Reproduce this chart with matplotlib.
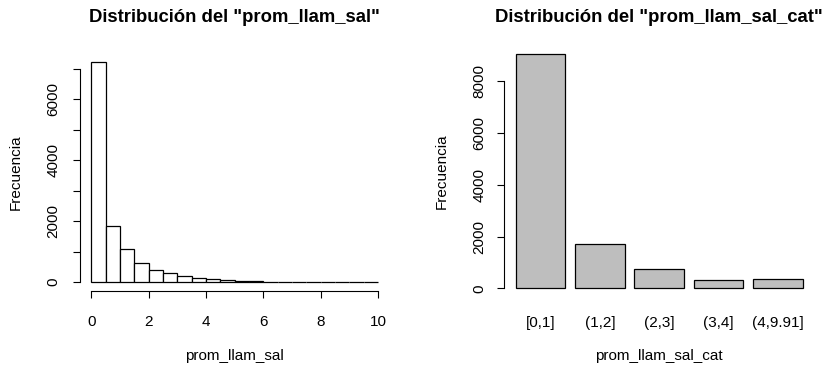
import numpy as np
import matplotlib.pyplot as plt

plt.rcParams['font.family'] = ['Liberation Sans', 'DejaVu Sans']

# histogram of prom_llam_sal (bins of 0.5 from 0 to 10)
bin_edges = [0, 0.5, 1, 1.5, 2, 2.5, 3, 3.5, 4, 4.5, 5, 5.5, 6, 6.5, 7, 7.5, 8, 8.5, 9, 9.5, 10]
hist_counts = [7217, 1855, 1075, 638, 408, 286, 188, 122, 89, 66, 40, 32, 8, 5, 3, 2, 1, 1, 1, 0]

# barplot of prom_llam_sal_cat
cat_labels = ["[0,1]", "(1,2]", "(2,3]", "(3,4]", "(4,9.91]"]
cat_counts = [9046, 1710, 734, 333, 360]

W, H = 827, 372
fig = plt.figure(figsize=(W / 100, H / 100), dpi=100)


def px_axes(x0, x1, ytop, ybot):
    return fig.add_axes([x0 / W, 1 - ybot / H, (x1 - x0) / W, (ybot - ytop) / H])


tick_fs = 11
lab_fs = 11
title_fs = 13.3

# ---- left: histogram ----
ax1 = px_axes(80, 389.4, 53.5, 291)
left = np.array(bin_edges[:-1])
widths = np.diff(bin_edges)
ax1.bar(left, hist_counts, width=widths, align='edge', color='white',
        edgecolor='black', linewidth=0.9)
ymax = max(hist_counts)
ax1.set_xlim(-0.4, 10.4)
ax1.set_ylim(-0.04 * ymax, 1.04 * ymax)
for s in ['top', 'right']:
    ax1.spines[s].set_visible(False)
ax1.spines['left'].set_bounds(0, 7000)
ax1.spines['bottom'].set_bounds(0, 10)
ax1.set_xticks([0, 2, 4, 6, 8, 10])
ax1.set_yticks(range(0, 7001, 1000))
ax1.set_yticklabels([str(v) if v % 2000 == 0 else "" for v in range(0, 7001, 1000)],
                    rotation=90, va='center')
ax1.tick_params(axis='x', direction='out', length=5, width=0.8, labelsize=tick_fs, pad=12)
ax1.tick_params(axis='y', direction='out', length=5, width=0.8, labelsize=tick_fs, pad=9)
ax1.set_xlabel("prom_llam_sal", fontsize=lab_fs, labelpad=15)
ax1.set_ylabel("Frecuencia", fontsize=lab_fs, labelpad=17)
fig.text(234 / W, 1 - 17 / H, 'Distribución del "prom_llam_sal"', ha='center', va='center',
         fontsize=title_fs, fontweight='bold')

# ---- right: barplot ----
ax2 = px_axes(504.2, 814.3, 44.6, 297.7)
pos = 0.7 + 1.2 * np.arange(len(cat_counts))
ax2.bar(pos, cat_counts, width=1.0, color='#bebebe', edgecolor='black', linewidth=0.9)
cmax = max(cat_counts)
ax2.set_xlim(-0.032, 6.232)
ax2.set_ylim(-0.04 * cmax, 1.04 * cmax)
for s in ['top', 'right', 'bottom']:
    ax2.spines[s].set_visible(False)
ax2.spines['left'].set_bounds(0, 8000)
ax2.set_yticks(range(0, 8001, 2000))
ax2.set_yticklabels([str(v) for v in range(0, 8001, 2000)], rotation=90, va='center')
ax2.set_xticks(pos)
ax2.set_xticklabels(cat_labels)
ax2.tick_params(axis='x', length=0, labelsize=tick_fs, pad=13)
ax2.tick_params(axis='y', direction='out', length=5, width=0.8, labelsize=tick_fs, pad=8)
ax2.set_xlabel("prom_llam_sal_cat", fontsize=lab_fs, labelpad=14)
ax2.set_ylabel("Frecuencia", fontsize=lab_fs, labelpad=17)
fig.text(659 / W, 1 - 17 / H, 'Distribución del "prom_llam_sal_cat"', ha='center', va='center',
         fontsize=title_fs, fontweight='bold')

fig.savefig("out.png", dpi=100)
